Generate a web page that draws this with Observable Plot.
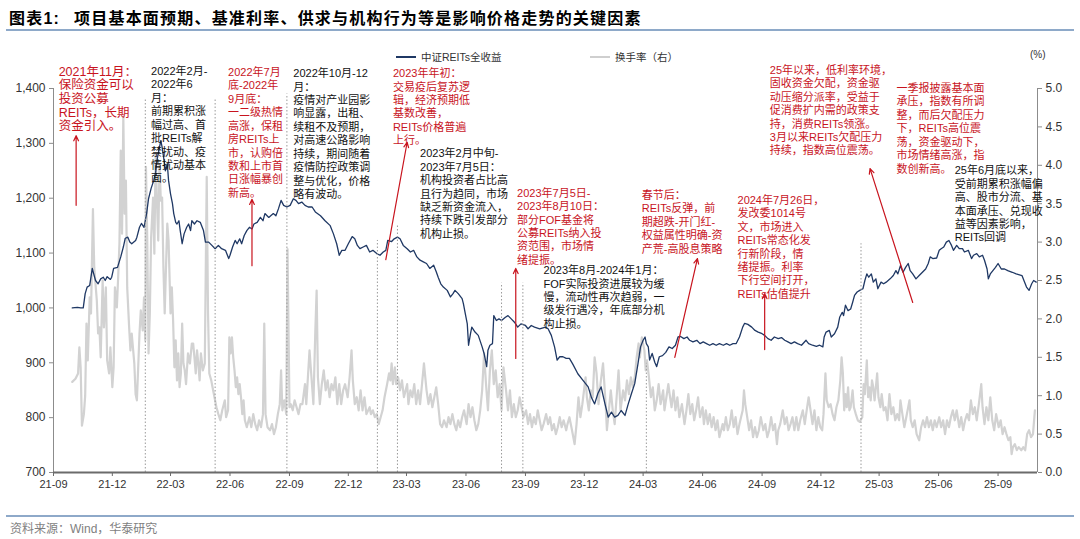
<!DOCTYPE html>
<html><head><meta charset="utf-8">
<script src="https://cdn.jsdelivr.net/npm/d3@7"></script>
<script src="https://cdn.jsdelivr.net/npm/@observablehq/plot@0.6"></script>
<style>
body{margin:0;width:1080px;height:539px;position:relative;background:#fff;overflow:hidden;font-family:"Liberation Sans",Arial,"Noto Sans CJK SC",sans-serif}
#title{position:absolute;left:9px;top:5px;font-size:16px;font-weight:bold;color:#000;letter-spacing:1.2px;white-space:nowrap}
#title span.t{margin-left:14px}
.hr{position:absolute;left:6px;width:1068px;height:2px;background:#8EA9C9}
#chart{position:absolute;left:0;top:32px}
.lg{position:absolute;top:49px;font-size:10.5px;color:#333;white-space:nowrap}
.sw{position:absolute;height:2px;top:56px;width:20px}
#unit{position:absolute;left:1030px;top:49px;font-size:10px;color:#333}
#src{position:absolute;left:10px;top:519px;font-size:12px;color:#7f7f7f}
</style></head>
<body>
<div id="title"><span>图表1:</span><span class="t">项目基本面预期、基准利率、供求与机构行为等是影响价格走势的关键因素</span></div>
<div class="hr" style="top:29px"></div>
<div id="chart"></div>
<div class="sw" style="left:396px;background:#1F3864"></div><div class="lg" style="left:421px">中证REITs全收益</div>
<div class="sw" style="left:590px;background:#CFCFCF"></div><div class="lg" style="left:615px">换手率（右）</div>
<div id="unit">(%)</div>
<div class="hr" style="top:515px"></div>
<div id="src">资料来源：Wind，华泰研究</div>
<script>
const FONT = '"Liberation Sans", Arial, "Noto Sans CJK SC", sans-serif';
const seriesNames = ["中证REITs全收益", "换手率（右）"];
const xDomain = ["2021-09-01", "2025-11-01"];
const xTicks = ["2021-09-01","2021-12-01","2022-03-01","2022-06-01","2022-09-01","2022-12-01","2023-03-01","2023-06-01","2023-09-01","2023-12-01","2024-03-01","2024-06-01","2024-09-01","2024-12-01","2025-03-01","2025-06-01","2025-09-01"];
const leftTicks = [700, 800, 900, 1000, 1100, 1200, 1300, 1400];
const rightTicks = [0, 0.5, 1, 1.5, 2, 2.5, 3, 3.5, 4, 4.5, 5];
const leftDomain = [700, 1400];
const rightDomain = [0, 5];

// 中证REITs全收益 (left axis)
const reitsIndex = [["2021-09-30",1000],["2021-10-08",1001],["2021-10-13",1000],["2021-10-17",1000],["2021-10-20",1026],["2021-10-23",1038],["2021-10-27",1041],["2021-10-31",1072],["2021-11-02",1063],["2021-11-05",1050],["2021-11-09",1044],["2021-11-13",1053],["2021-11-17",1056],["2021-11-20",1050],["2021-11-23",1057],["2021-11-28",1052],["2021-11-30",1056],["2021-12-03",1072],["2021-12-09",1074],["2021-12-14",1093],["2021-12-18",1111],["2021-12-21",1127],["2021-12-25",1129],["2021-12-28",1120],["2021-12-31",1117],["2022-01-06",1123],["2022-01-08",1129],["2022-01-12",1147],["2022-01-15",1154],["2022-01-19",1147],["2022-01-23",1172],["2022-01-26",1199],["2022-01-30",1218],["2022-02-03",1232],["2022-02-06",1247],["2022-02-08",1269],["2022-02-11",1287],["2022-02-14",1305],["2022-02-16",1293],["2022-02-19",1269],["2022-02-21",1250],["2022-02-24",1263],["2022-02-26",1232],["2022-03-01",1208],["2022-03-04",1190],["2022-03-06",1172],["2022-03-09",1156],["2022-03-11",1153],["2022-03-14",1159],["2022-03-16",1141],["2022-03-19",1117],["2022-03-22",1135],["2022-03-26",1147],["2022-03-29",1153],["2022-04-01",1141],["2022-04-03",1159],["2022-04-07",1153],["2022-04-11",1159],["2022-04-16",1156],["2022-04-19",1147],["2022-04-21",1141],["2022-04-24",1120],["2022-04-29",1120],["2022-05-04",1114],["2022-05-09",1108],["2022-05-14",1114],["2022-05-19",1108],["2022-05-25",1105],["2022-05-30",1090],["2022-06-01",1096],["2022-06-05",1111],["2022-06-09",1123],["2022-06-12",1117],["2022-06-16",1126],["2022-06-19",1117],["2022-06-23",1132],["2022-06-27",1141],["2022-07-01",1147],["2022-07-05",1144],["2022-07-08",1153],["2022-07-13",1156],["2022-07-18",1165],["2022-07-22",1159],["2022-07-25",1172],["2022-07-31",1165],["2022-08-03",1168],["2022-08-07",1172],["2022-08-11",1168],["2022-08-15",1181],["2022-08-19",1196],["2022-08-23",1187],["2022-08-28",1184],["2022-09-02",1187],["2022-09-07",1199],["2022-09-11",1196],["2022-09-15",1190],["2022-09-20",1193],["2022-09-25",1187],["2022-09-30",1184],["2022-10-06",1184],["2022-10-11",1175],["2022-10-19",1168],["2022-10-26",1159],["2022-11-03",1150],["2022-11-08",1135],["2022-11-13",1117],["2022-11-17",1096],["2022-11-21",1105],["2022-11-26",1105],["2022-12-01",1117],["2022-12-07",1130],["2022-12-11",1126],["2022-12-15",1114],["2022-12-19",1108],["2022-12-24",1111],["2022-12-29",1114],["2023-01-03",1102],["2023-01-08",1105],["2023-01-14",1099],["2023-01-19",1096],["2023-01-24",1102],["2023-01-28",1105],["2023-01-31",1123],["2023-02-06",1121],["2023-02-10",1126],["2023-02-15",1129],["2023-02-19",1126],["2023-02-24",1114],["2023-03-02",1108],["2023-03-07",1102],["2023-03-12",1105],["2023-03-17",1093],["2023-03-22",1087],["2023-03-27",1084],["2023-04-01",1081],["2023-04-06",1072],["2023-04-12",1078],["2023-04-16",1066],["2023-04-19",1056],["2023-04-23",1044],["2023-04-27",1038],["2023-05-03",1032],["2023-05-08",1020],["2023-05-12",1026],["2023-05-15",1032],["2023-05-20",1026],["2023-05-26",1017],["2023-05-28",1008],["2023-05-31",989],["2023-06-03",971],["2023-06-05",932],["2023-06-08",953],["2023-06-10",965],["2023-06-15",956],["2023-06-20",950],["2023-06-26",929],["2023-06-29",917],["2023-07-03",893],["2023-07-05",923],["2023-07-08",932],["2023-07-12",935],["2023-07-14",986],["2023-07-18",977],["2023-07-22",980],["2023-07-26",977],["2023-08-01",983],["2023-08-05",986],["2023-08-10",980],["2023-08-15",974],["2023-08-20",965],["2023-08-25",971],["2023-09-01",968],["2023-09-05",962],["2023-09-10",968],["2023-09-15",965],["2023-09-23",962],["2023-10-02",965],["2023-10-06",962],["2023-10-11",950],["2023-10-16",929],["2023-10-20",905],["2023-10-24",911],["2023-10-29",911],["2023-11-03",908],["2023-11-08",908],["2023-11-13",898],["2023-11-21",880],["2023-11-29",868],["2023-12-07",856],["2023-12-12",837],["2023-12-17",825],["2023-12-22",844],["2023-12-27",856],["2024-01-02",825],["2024-01-07",801],["2024-01-12",810],["2024-01-17",801],["2024-01-22",804],["2024-01-27",813],["2024-02-02",804],["2024-02-07",825],["2024-02-12",844],["2024-02-17",862],["2024-02-22",898],["2024-02-26",929],["2024-03-01",941],["2024-03-04",947],["2024-03-06",935],["2024-03-09",929],["2024-03-11",905],["2024-03-15",917],["2024-03-19",901],["2024-03-22",893],["2024-03-26",911],["2024-03-31",913],["2024-04-05",919],["2024-04-10",929],["2024-04-15",926],["2024-04-20",932],["2024-04-24",947],["2024-04-28",948],["2024-05-03",944],["2024-05-08",947],["2024-05-12",941],["2024-05-17",938],["2024-05-23",941],["2024-05-28",935],["2024-06-02",938],["2024-06-07",935],["2024-06-12",932],["2024-06-17",935],["2024-06-22",932],["2024-06-27",935],["2024-07-03",932],["2024-07-08",935],["2024-07-13",932],["2024-07-18",935],["2024-07-23",935],["2024-07-28",947],["2024-08-02",965],["2024-08-05",972],["2024-08-10",970],["2024-08-16",965],["2024-08-21",959],["2024-08-26",956],["2024-09-01",953],["2024-09-05",950],["2024-09-10",944],["2024-09-15",941],["2024-09-20",947],["2024-09-26",944],["2024-10-01",946],["2024-10-06",941],["2024-10-11",938],["2024-10-16",935],["2024-10-21",938],["2024-10-26",935],["2024-11-01",932],["2024-11-08",941],["2024-11-12",935],["2024-11-18",932],["2024-11-24",930],["2024-11-29",932],["2024-12-04",929],["2024-12-06",947],["2024-12-09",956],["2024-12-14",959],["2024-12-17",947],["2024-12-22",953],["2024-12-27",965],["2024-12-30",983],["2025-01-03",992],["2025-01-05",986],["2025-01-08",1005],["2025-01-12",995],["2025-01-16",998],["2025-01-19",1010],["2025-01-22",1023],["2025-01-26",1029],["2025-01-30",1032],["2025-02-04",1035],["2025-02-07",1050],["2025-02-10",1062],["2025-02-13",1056],["2025-02-17",1062],["2025-02-20",1047],["2025-02-24",1053],["2025-02-27",1035],["2025-03-04",1047],["2025-03-08",1044],["2025-03-12",1047],["2025-03-18",1053],["2025-03-23",1059],["2025-03-27",1068],["2025-03-30",1062],["2025-04-03",1077],["2025-04-07",1065],["2025-04-11",1074],["2025-04-15",1081],["2025-04-18",1068],["2025-04-22",1062],["2025-04-27",1053],["2025-05-02",1059],["2025-05-07",1065],["2025-05-12",1071],["2025-05-16",1081],["2025-05-19",1093],["2025-05-23",1090],["2025-05-29",1091],["2025-06-02",1105],["2025-06-05",1108],["2025-06-09",1111],["2025-06-13",1120],["2025-06-17",1123],["2025-06-21",1114],["2025-06-24",1105],["2025-06-29",1114],["2025-07-03",1108],["2025-07-08",1108],["2025-07-11",1102],["2025-07-17",1105],["2025-07-22",1090],["2025-07-25",1096],["2025-07-30",1099],["2025-08-03",1093],["2025-08-08",1096],["2025-08-11",1087],["2025-08-15",1071],["2025-08-17",1053],["2025-08-20",1062],["2025-08-24",1068],["2025-08-28",1074],["2025-09-01",1081],["2025-09-06",1071],["2025-09-11",1071],["2025-09-16",1068],["2025-09-23",1065],["2025-09-29",1062],["2025-10-08",1059],["2025-10-11",1050],["2025-10-15",1038],["2025-10-19",1032],["2025-10-23",1044],["2025-10-26",1050],["2025-10-30",1047]];

// 换手率 (%) (right axis)
const turnover = [["2021-09-30",1.18],["2021-10-05",1.22],["2021-10-09",1.29],["2021-10-11",1.63],["2021-10-13",1.37],["2021-10-15",0.61],["2021-10-18",0.76],["2021-10-20",1.00],["2021-10-22",1.94],["2021-10-24",1.46],["2021-10-27",2.28],["2021-10-29",2.07],["2021-11-01",3.43],["2021-11-03",2.67],["2021-11-07",2.24],["2021-11-09",1.81],["2021-11-11",1.89],["2021-11-13",1.50],["2021-11-16",2.50],["2021-11-18",1.89],["2021-11-21",2.41],["2021-11-23",1.46],["2021-11-26",1.29],["2021-11-28",1.63],["2021-12-01",1.11],["2021-12-03",1.37],["2021-12-05",2.41],["2021-12-08",2.15],["2021-12-10",2.54],["2021-12-12",2.98],["2021-12-14",4.19],["2021-12-16",3.11],["2021-12-18",4.63],["2021-12-20",3.37],["2021-12-22",3.80],["2021-12-24",2.41],["2021-12-27",1.89],["2021-12-29",1.59],["2021-12-31",1.81],["2022-01-04",1.42],["2022-01-06",1.02],["2022-01-08",0.94],["2022-01-10",1.37],["2022-01-12",1.81],["2022-01-14",2.11],["2022-01-17",1.85],["2022-01-19",2.28],["2022-01-21",1.72],["2022-01-22",3.98],["2022-01-24",3.06],["2022-01-26",1.55],["2022-01-28",2.07],["2022-01-30",3.06],["2022-02-02",3.58],["2022-02-04",2.85],["2022-02-06",4.15],["2022-02-08",3.54],["2022-02-10",3.02],["2022-02-12",4.02],["2022-02-14",3.54],["2022-02-16",3.58],["2022-02-18",2.67],["2022-02-20",2.07],["2022-02-22",2.67],["2022-02-24",3.24],["2022-02-26",3.02],["2022-03-01",2.07],["2022-03-03",2.41],["2022-03-05",1.98],["2022-03-07",1.37],["2022-03-09",1.72],["2022-03-11",1.20],["2022-03-13",1.55],["2022-03-15",1.11],["2022-03-17",1.29],["2022-03-19",1.94],["2022-03-21",1.42],["2022-03-23",1.33],["2022-03-25",1.15],["2022-03-28",1.55],["2022-03-31",1.42],["2022-04-03",1.68],["2022-04-05",1.68],["2022-04-07",1.50],["2022-04-09",1.29],["2022-04-11",1.59],["2022-04-13",1.42],["2022-04-15",1.20],["2022-04-17",1.55],["2022-04-20",1.33],["2022-04-23",1.42],["2022-04-26",3.85],["2022-04-28",2.07],["2022-04-30",1.29],["2022-05-03",1.20],["2022-05-05",1.11],["2022-05-08",0.98],["2022-05-11",0.85],["2022-05-14",0.76],["2022-05-17",0.68],["2022-05-20",0.81],["2022-05-24",0.94],["2022-05-26",0.72],["2022-05-29",0.81],["2022-05-31",1.76],["2022-06-02",1.55],["2022-06-04",1.76],["2022-06-06",1.50],["2022-06-08",1.33],["2022-06-10",1.11],["2022-06-12",1.24],["2022-06-14",1.02],["2022-06-16",1.15],["2022-06-18",0.98],["2022-06-20",0.76],["2022-06-22",0.94],["2022-06-24",0.68],["2022-06-27",0.59],["2022-07-01",0.72],["2022-07-04",0.59],["2022-07-07",0.76],["2022-07-10",0.63],["2022-07-13",0.55],["2022-07-16",0.68],["2022-07-19",0.59],["2022-07-22",0.76],["2022-07-24",1.94],["2022-07-26",0.76],["2022-07-29",0.59],["2022-08-02",0.55],["2022-08-05",0.63],["2022-08-08",0.50],["2022-08-11",0.59],["2022-08-14",0.76],["2022-08-17",0.89],["2022-08-19",1.33],["2022-08-21",0.81],["2022-08-24",0.94],["2022-08-27",0.76],["2022-08-29",2.91],["2022-09-01",0.85],["2022-09-03",0.89],["2022-09-06",0.81],["2022-09-09",0.94],["2022-09-12",0.85],["2022-09-15",0.76],["2022-09-18",0.89],["2022-09-21",0.89],["2022-09-25",1.15],["2022-09-27",0.89],["2022-10-02",1.59],["2022-10-05",1.24],["2022-10-08",0.89],["2022-10-11",1.85],["2022-10-13",2.37],["2022-10-15",1.24],["2022-10-18",0.89],["2022-10-21",1.15],["2022-10-24",1.33],["2022-10-27",1.07],["2022-10-30",1.20],["2022-11-02",0.98],["2022-11-05",1.15],["2022-11-08",1.07],["2022-11-11",1.24],["2022-11-14",0.89],["2022-11-17",1.15],["2022-11-20",0.89],["2022-11-23",1.07],["2022-11-26",1.15],["2022-11-30",0.98],["2022-12-03",1.24],["2022-12-06",1.59],["2022-12-08",1.20],["2022-12-11",0.89],["2022-12-14",0.98],["2022-12-17",0.81],["2022-12-20",1.07],["2022-12-23",0.81],["2022-12-26",0.98],["2022-12-29",0.76],["2023-01-03",0.85],["2023-01-05",0.76],["2023-01-08",0.81],["2023-01-11",0.72],["2023-01-14",0.76],["2023-01-17",0.63],["2023-01-20",0.72],["2023-01-23",0.81],["2023-01-26",0.98],["2023-01-30",1.15],["2023-02-02",1.29],["2023-02-04",1.20],["2023-02-06",1.42],["2023-02-08",1.15],["2023-02-11",1.37],["2023-02-13",1.15],["2023-02-16",1.24],["2023-02-19",1.07],["2023-02-22",1.20],["2023-02-25",0.98],["2023-03-02",1.15],["2023-03-04",0.89],["2023-03-07",1.07],["2023-03-10",0.98],["2023-03-13",1.15],["2023-03-16",0.89],["2023-03-19",1.07],["2023-03-22",0.89],["2023-03-25",1.15],["2023-03-28",1.42],["2023-04-01",1.07],["2023-04-04",0.89],["2023-04-07",1.02],["2023-04-10",0.85],["2023-04-13",0.98],["2023-04-16",1.11],["2023-04-19",0.89],["2023-04-22",0.63],["2023-04-25",0.59],["2023-04-28",0.68],["2023-05-02",0.59],["2023-05-05",0.72],["2023-05-08",0.63],["2023-05-11",0.76],["2023-05-14",0.63],["2023-05-17",0.55],["2023-05-20",0.68],["2023-05-23",0.59],["2023-05-26",0.72],["2023-05-29",0.81],["2023-06-02",0.63],["2023-06-05",0.89],["2023-06-08",0.72],["2023-06-11",0.85],["2023-06-14",0.68],["2023-06-17",0.55],["2023-06-20",0.63],["2023-06-23",0.81],["2023-06-26",1.07],["2023-06-29",1.55],["2023-07-02",1.15],["2023-07-05",0.81],["2023-07-08",1.33],["2023-07-11",1.59],["2023-07-14",1.15],["2023-07-17",1.33],["2023-07-20",0.98],["2023-07-23",1.15],["2023-07-26",0.81],["2023-07-29",1.37],["2023-08-02",1.07],["2023-08-05",0.81],["2023-08-08",1.07],["2023-08-11",0.72],["2023-08-14",0.89],["2023-08-17",0.72],["2023-08-20",0.81],["2023-08-23",0.98],["2023-08-26",0.85],["2023-08-29",0.72],["2023-09-02",0.81],["2023-09-05",0.63],["2023-09-08",0.76],["2023-09-11",0.59],["2023-09-14",0.72],["2023-09-17",0.63],["2023-09-20",0.81],["2023-09-23",0.68],["2023-09-26",0.55],["2023-09-29",0.63],["2023-10-03",0.76],["2023-10-06",0.63],["2023-10-09",0.72],["2023-10-12",0.55],["2023-10-15",0.63],["2023-10-18",0.50],["2023-10-21",0.59],["2023-10-24",0.72],["2023-10-27",0.59],["2023-10-30",0.68],["2023-11-03",0.55],["2023-11-05",0.63],["2023-11-08",0.72],["2023-11-12",0.55],["2023-11-16",0.37],["2023-11-19",0.63],["2023-11-22",0.98],["2023-11-25",0.72],["2023-11-28",0.89],["2023-12-03",1.24],["2023-12-05",0.98],["2023-12-08",0.81],["2023-12-11",1.07],["2023-12-14",0.98],["2023-12-17",1.50],["2023-12-20",1.29],["2023-12-23",0.89],["2023-12-26",1.15],["2023-12-30",1.42],["2024-01-03",0.89],["2024-01-05",0.55],["2024-01-08",0.81],["2024-01-11",1.07],["2024-01-14",0.81],["2024-01-17",0.63],["2024-01-20",0.98],["2024-01-23",1.33],["2024-01-26",0.81],["2024-01-30",1.07],["2024-02-02",0.94],["2024-02-05",1.20],["2024-02-08",1.02],["2024-02-11",1.24],["2024-02-14",1.11],["2024-02-17",1.24],["2024-02-20",1.50],["2024-02-23",1.68],["2024-02-25",1.50],["2024-02-28",1.76],["2024-03-03",1.59],["2024-03-05",1.33],["2024-03-07",1.46],["2024-03-10",1.24],["2024-03-13",0.98],["2024-03-16",1.11],["2024-03-19",0.81],["2024-03-22",0.94],["2024-03-25",1.15],["2024-03-28",0.89],["2024-04-01",1.07],["2024-04-03",0.81],["2024-04-06",0.98],["2024-04-09",1.15],["2024-04-11",1.02],["2024-04-14",0.85],["2024-04-17",1.07],["2024-04-20",0.81],["2024-04-23",0.98],["2024-04-26",0.72],["2024-04-30",0.89],["2024-05-04",0.63],["2024-05-07",0.81],["2024-05-10",1.02],["2024-05-13",0.76],["2024-05-16",0.89],["2024-05-19",0.68],["2024-05-22",0.81],["2024-05-25",0.98],["2024-05-28",0.72],["2024-06-01",0.85],["2024-06-03",0.63],["2024-06-06",0.81],["2024-06-09",0.63],["2024-06-12",0.76],["2024-06-15",0.59],["2024-06-18",0.72],["2024-06-21",0.55],["2024-06-24",0.68],["2024-06-27",0.46],["2024-07-02",0.63],["2024-07-04",0.55],["2024-07-07",0.72],["2024-07-10",0.55],["2024-07-13",0.63],["2024-07-16",0.81],["2024-07-19",0.59],["2024-07-22",0.72],["2024-07-25",0.50],["2024-07-28",0.63],["2024-08-02",0.81],["2024-08-04",1.07],["2024-08-06",0.89],["2024-08-09",0.72],["2024-08-12",0.55],["2024-08-15",0.68],["2024-08-18",0.46],["2024-08-21",0.59],["2024-08-24",0.46],["2024-08-27",0.55],["2024-08-30",0.72],["2024-09-03",0.55],["2024-09-06",0.63],["2024-09-09",0.46],["2024-09-12",0.55],["2024-09-15",0.72],["2024-09-18",0.55],["2024-09-21",0.63],["2024-09-24",0.37],["2024-09-26",0.55],["2024-09-29",0.63],["2024-10-03",0.81],["2024-10-06",0.63],["2024-10-09",0.72],["2024-10-12",0.55],["2024-10-15",0.63],["2024-10-18",0.72],["2024-10-21",0.55],["2024-10-24",0.72],["2024-10-27",0.55],["2024-10-30",0.68],["2024-11-03",0.81],["2024-11-06",0.63],["2024-11-09",0.81],["2024-11-12",0.98],["2024-11-15",0.81],["2024-11-18",0.63],["2024-11-21",0.81],["2024-11-24",0.55],["2024-11-27",0.72],["2024-11-30",0.59],["2024-12-03",0.55],["2024-12-05",0.76],["2024-12-08",1.29],["2024-12-10",0.94],["2024-12-13",0.85],["2024-12-16",0.89],["2024-12-19",0.76],["2024-12-22",0.68],["2024-12-25",0.85],["2024-12-28",0.94],["2024-12-31",1.20],["2025-01-02",1.50],["2025-01-04",1.29],["2025-01-06",0.81],["2025-01-08",1.02],["2025-01-10",0.85],["2025-01-12",1.11],["2025-01-14",0.81],["2025-01-16",0.85],["2025-01-19",1.07],["2025-01-21",0.85],["2025-01-24",0.76],["2025-01-27",0.68],["2025-01-30",0.66],["2025-02-03",0.72],["2025-02-05",1.15],["2025-02-07",1.02],["2025-02-10",1.46],["2025-02-12",0.98],["2025-02-14",1.11],["2025-02-16",0.94],["2025-02-18",1.20],["2025-02-20",1.11],["2025-02-22",0.94],["2025-02-24",1.11],["2025-02-26",1.29],["2025-02-28",0.98],["2025-03-03",0.85],["2025-03-05",1.02],["2025-03-08",0.81],["2025-03-11",0.85],["2025-03-14",0.68],["2025-03-17",1.02],["2025-03-20",0.76],["2025-03-23",0.85],["2025-03-26",0.68],["2025-03-29",0.76],["2025-04-01",0.68],["2025-04-03",0.94],["2025-04-06",0.76],["2025-04-09",0.59],["2025-04-12",0.72],["2025-04-15",0.85],["2025-04-17",0.94],["2025-04-19",0.68],["2025-04-22",0.59],["2025-04-25",0.68],["2025-04-28",0.50],["2025-05-02",0.42],["2025-05-05",0.59],["2025-05-08",0.68],["2025-05-11",0.59],["2025-05-14",0.72],["2025-05-17",0.59],["2025-05-20",0.68],["2025-05-23",0.55],["2025-05-26",0.68],["2025-05-29",0.59],["2025-06-02",0.72],["2025-06-05",0.59],["2025-06-08",0.68],["2025-06-11",0.50],["2025-06-14",0.68],["2025-06-17",0.59],["2025-06-20",0.72],["2025-06-23",0.81],["2025-06-26",0.68],["2025-06-29",0.81],["2025-07-03",0.59],["2025-07-06",0.72],["2025-07-09",0.55],["2025-07-12",0.68],["2025-07-15",0.76],["2025-07-18",0.68],["2025-07-21",0.94],["2025-07-24",0.76],["2025-07-27",0.85],["2025-07-30",0.68],["2025-08-03",0.94],["2025-08-06",1.15],["2025-08-08",0.85],["2025-08-11",0.63],["2025-08-14",0.85],["2025-08-17",0.68],["2025-08-20",0.98],["2025-08-23",0.68],["2025-08-26",0.55],["2025-08-29",0.76],["2025-09-02",0.59],["2025-09-05",0.68],["2025-09-08",0.50],["2025-09-11",0.59],["2025-09-14",0.50],["2025-09-17",0.42],["2025-09-20",0.46],["2025-09-22",0.24],["2025-09-24",0.33],["2025-09-27",0.37],["2025-09-30",0.29],["2025-10-03",0.33],["2025-10-07",0.29],["2025-10-10",0.33],["2025-10-13",0.29],["2025-10-16",0.50],["2025-10-19",0.55],["2025-10-22",0.46],["2025-10-25",0.50],["2025-10-28",0.81]];

// dotted period separators: [date, top value on left axis]
const periodLines = [["2022-01-21",1380],["2022-05-09",1380],["2022-08-28",1390],["2023-01-15",1123],["2023-02-15",1150],["2023-07-26",1045],["2023-08-28",1045],["2024-03-06",899],["2025-02-01",1117]];

// annotation arrows: [from date, from value, to date, to value]
const arrows = [["2021-10-06",1187,"2021-10-06",1314],["2022-07-05",1077,"2022-07-05",1198],["2023-01-28",1088,"2023-03-02",1302],["2023-08-17",908,"2023-08-17",1072],["2024-04-19",910,"2024-05-24",1090],["2024-09-05",924,"2024-09-05",1026],["2025-04-22",1010,"2025-02-15",1254]];

// annotation texts anchored at [date, value]
const leadNote = [["2021-09-09",1441,"2021年11月：\n保险资金可以\n投资公募\nREITs，长期\n资金引入。"]];
const redNotes = [
  ["2022-05-29",1440,"2022年7月\n底-2022年\n9月底：\n一二级热情\n高涨，保租\n房REITs上\n市，认购倍\n数和上市首\n日涨幅暴创\n新高。"],
  ["2023-02-08",1438,"2023年年初：\n交易疫后复苏逻\n辑，经济预期低\n基数改善，\nREITs价格普遍\n上行。"],
  ["2023-08-19",1220,"2023年7月5日-\n2023年8月10日：\n部分FOF基金将\n公募REITs纳入投\n资范围，市场情\n绪提振。"],
  ["2024-02-28",1216,"春节后：\nREITs反弹，前\n期超跌-开门红-\n权益属性明确-资\n产荒-高股息策略"],
  ["2024-07-25",1207,"2024年7月26日，\n发改委1014号\n文，市场进入\nREITs常态化发\n行新阶段，情\n绪提振。利率\n下行空间打开，\nREITs估值提升"],
  ["2024-09-13",1444,"25年以来，低利率环境，\n固收资金欠配，资金驱\n动压缩分派率，受益于\n促消费扩内需的政策支\n持，消费REITs领涨。\n3月以来REITs欠配压力\n持续，指数高位震荡。"],
  ["2025-03-28",1411,"一季报披露基本面\n承压，指数有所调\n整，而后欠配压力\n下，REITs高位震\n荡，资金驱动下，\n市场情绪高涨，指\n数创新高。"]
];
const blackNotes = [
  ["2022-01-30",1442,"2022年2月-\n2022年6\n月：\n前期累积涨\n幅过高、首\n批REITs解\n禁扰动、疫\n情扰动基本\n面。"],
  ["2022-09-07",1438,"2022年10月-12\n月：\n疫情对产业园影\n响显露，出租、\n续租不及预期，\n对高速公路影响\n持续，期间随着\n疫情防控政策调\n整与优化，价格\n略有波动。"],
  ["2023-03-22",1292,"2023年2月中旬-\n2023年7月5日：\n机构投资者占比高\n且行为趋同，市场\n缺乏新资金流入，\n持续下跌引发部分\n机构止损。"],
  ["2023-09-29",1079,"2023年8月-2024年1月：\nFOF实际投资进展较为缓\n慢，流动性再次趋弱，一\n级发行遇冷，年底部分机\n构止损。"],
  ["2025-06-26",1261,"25年6月底以来，\n受前期累积涨幅偏\n高、股市分流、基\n本面承压、兑现收\n益等因素影响，\nREITs回调"]
];

const D = s => new Date(s);
// secondary (right) axis mapped onto the left scale
const toLeft = v => leftDomain[0] + (v - rightDomain[0]) * (leftDomain[1] - leftDomain[0]) / (rightDomain[1] - rightDomain[0]);
const fromLeft = y => rightDomain[0] + (y - leftDomain[0]) * (rightDomain[1] - rightDomain[0]) / (leftDomain[1] - leftDomain[0]);

const RED = "#C8141E", NAVY = "#1F3864", GRAY = "#D2D2D2";

const chart = Plot.plot({
  width: 1080, height: 476,
  marginLeft: 53, marginRight: 43, marginTop: 56, marginBottom: 36,
  x: {type: "utc", domain: xDomain.map(D)},
  y: {domain: leftDomain},
  style: {fontFamily: FONT, fontSize: "11px", color: "#333", background: "transparent", overflow: "visible"},
  marks: [
    Plot.lineY(turnover, {x: d => D(d[0]), y: d => toLeft(d[1]), stroke: GRAY, strokeWidth: 2.2}),
    Plot.lineY(reitsIndex, {x: d => D(d[0]), y: d => d[1], stroke: NAVY, strokeWidth: 1.3}),
    Plot.ruleX(periodLines, {x: d => D(d[0]), y1: leftDomain[0], y2: d => d[1], stroke: "#9a9a9a", strokeWidth: 1, strokeDasharray: "1.5,2"}),
    Plot.ruleX([D(xDomain[0])], {y1: leftDomain[0], y2: leftDomain[1], stroke: "#8c8c8c", strokeWidth: 1}),
    Plot.ruleX([D(xDomain[1])], {y1: leftDomain[0], y2: leftDomain[1], stroke: "#8c8c8c", strokeWidth: 1}),
    Plot.ruleY([leftDomain[0]], {stroke: "#6b6b6b", strokeWidth: 2}),
    Plot.axisX(xTicks.map(D), {tickFormat: d3.utcFormat("%y-%m"), tickSize: 4, tickPadding: 4, fontSize: 11, stroke: "#6b6b6b", fill: "#333", label: null}),
    Plot.axisY(leftTicks, {anchor: "left", tickFormat: d3.format(","), tickSize: 4, tickPadding: 4, fontSize: 12, stroke: "#8c8c8c", fill: "#333", label: null}),
    Plot.axisY(rightTicks.map(toLeft), {anchor: "right", tickFormat: d => fromLeft(d).toFixed(1), tickSize: 4, tickPadding: 4, fontSize: 12, stroke: "#8c8c8c", fill: "#333", label: null}),
    Plot.arrow(arrows, {x1: d => D(d[0]), y1: d => d[1], x2: d => D(d[2]), y2: d => d[3], stroke: RED, strokeWidth: 1.2, headLength: 7, headAngle: 50}),
    Plot.text(leadNote, {x: d => D(d[0]), y: d => d[1], text: d => d[2], textAnchor: "start", lineAnchor: "top", fill: RED, fontSize: 12.5, lineHeight: 1.09}),
    Plot.text(redNotes, {x: d => D(d[0]), y: d => d[1], text: d => d[2], textAnchor: "start", lineAnchor: "top", fill: RED, fontSize: 11, lineHeight: 1.22}),
    Plot.text(blackNotes, {x: d => D(d[0]), y: d => d[1], text: d => d[2], textAnchor: "start", lineAnchor: "top", fill: "#111", fontSize: 11, lineHeight: 1.22})
  ]
});
document.getElementById("chart").appendChild(chart);
</script>
</body></html>
